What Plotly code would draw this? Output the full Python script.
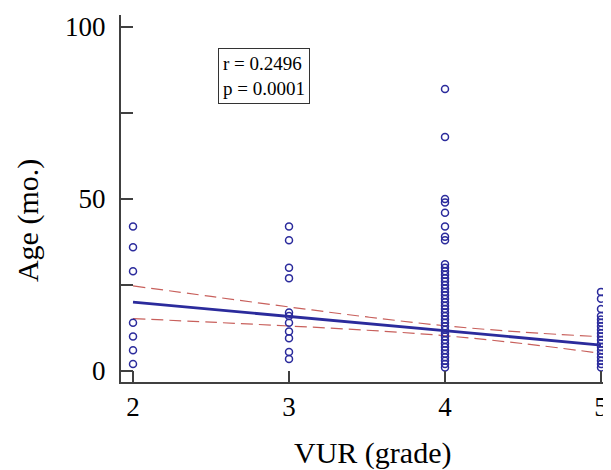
import plotly.graph_objects as go

# ---- data ----
grade2_age = [42, 36, 29, 14, 10, 6, 2]
grade3_age = [42, 38, 30, 27, 17, 16, 14, 11.5, 9.5, 5.5, 3.5]
grade4_age = [82, 68, 50, 49, 46, 42, 39, 38, 31, 30, 29, 28, 27, 26, 25, 24,
              23, 22, 21, 20, 19, 18, 17, 16, 15, 14, 13, 12, 11, 10, 9, 8,
              7, 6, 5, 4, 3, 2, 1]
grade5_age = [23, 21, 18, 16, 15, 14, 13, 12, 11, 10, 9, 8, 7, 6, 5, 4, 3, 2, 1]

fit_x = [2, 5]
fit_y = [20.0, 7.55]

ci_x = [2, 2.5, 3, 3.5, 4, 4.5, 5]
ci_upper = [24.75, 21.67, 18.62, 15.71, 13.15, 11.3, 9.96]
ci_lower = [15.25, 14.19, 13.08, 11.85, 10.25, 7.96, 5.14]

x_ticks = [2, 3, 4, 5]
y_ticks = [0, 25, 50, 75, 100]
y_ticktext = ["0", "", "50", "", "100"]

stats_text = "r = 0.2496<br>p = 0.0001"
x_title = "VUR (grade)"
y_title = "Age (mo.)"

# ---- build figure ----
xs, ys = [], []
for g, vals in zip([2, 3, 4, 5], [grade2_age, grade3_age, grade4_age, grade5_age]):
    xs += [g] * len(vals)
    ys += vals

FONT = "Liberation Serif, Times New Roman, serif"
BLUE = "#2b2b9c"
RED = "#c8605c"
AXIS = "#404040"

fig = go.Figure()
fig.add_trace(go.Scatter(x=ci_x, y=ci_upper, mode="lines",
                         line=dict(color=RED, width=1.2, dash="12px,6px", shape="spline"),
                         hoverinfo="skip"))
fig.add_trace(go.Scatter(x=ci_x, y=ci_lower, mode="lines",
                         line=dict(color=RED, width=1.2, dash="12px,6px", shape="spline"),
                         hoverinfo="skip"))
fig.add_trace(go.Scatter(x=xs, y=ys, mode="markers", cliponaxis=False,
                         marker=dict(symbol="circle-open", size=7, color=BLUE,
                                     line=dict(width=1.5, color=BLUE))))
fig.add_trace(go.Scatter(x=fit_x, y=fit_y, mode="lines",
                         line=dict(color=BLUE, width=2.8)))

# the page body adds an 8px offset, so the figure is sized/margined to compensate
fig.update_layout(
    width=603, height=462,
    margin=dict(l=113, r=0, t=7, b=88),
    paper_bgcolor="white", plot_bgcolor="white",
    showlegend=False,
    font=dict(family=FONT, color="black"),
    xaxis=dict(range=[1.923, 5.064], tickvals=x_ticks, ticks="inside", ticklen=11,
               tickwidth=1.5, tickcolor=AXIS, showline=True, linecolor=AXIS,
               linewidth=2, showgrid=False, zeroline=False,
               tickfont=dict(family=FONT, size=27, color="black")),
    yaxis=dict(range=[-3.2, 103.5], tickvals=y_ticks, ticktext=y_ticktext,
               ticks="inside", ticklen=12, tickwidth=1.5, tickcolor=AXIS,
               showline=True, linecolor=AXIS, linewidth=2, showgrid=False,
               zeroline=False, ticklabelstandoff=8,
               tickfont=dict(family=FONT, size=27, color="black")),
    annotations=[
        dict(text=stats_text, xref="paper", yref="paper", x=0.292, y=0.834,
             xanchor="center", yanchor="middle", showarrow=False, align="left",
             font=dict(family=FONT, size=19, color="black"),
             bordercolor="#333333", borderwidth=1, borderpad=4, bgcolor="white"),
        dict(text=x_title, xref="paper", yref="paper", x=0.514, y=-0.193,
             xanchor="center", yanchor="middle", showarrow=False,
             font=dict(family=FONT, size=30, color="black")),
        dict(text=y_title, xref="paper", yref="paper", x=-0.19, y=0.441,
             xanchor="center", yanchor="middle", showarrow=False, textangle=-90,
             font=dict(family=FONT, size=30, color="black")),
    ],
)

fig.write_html("out.html")
